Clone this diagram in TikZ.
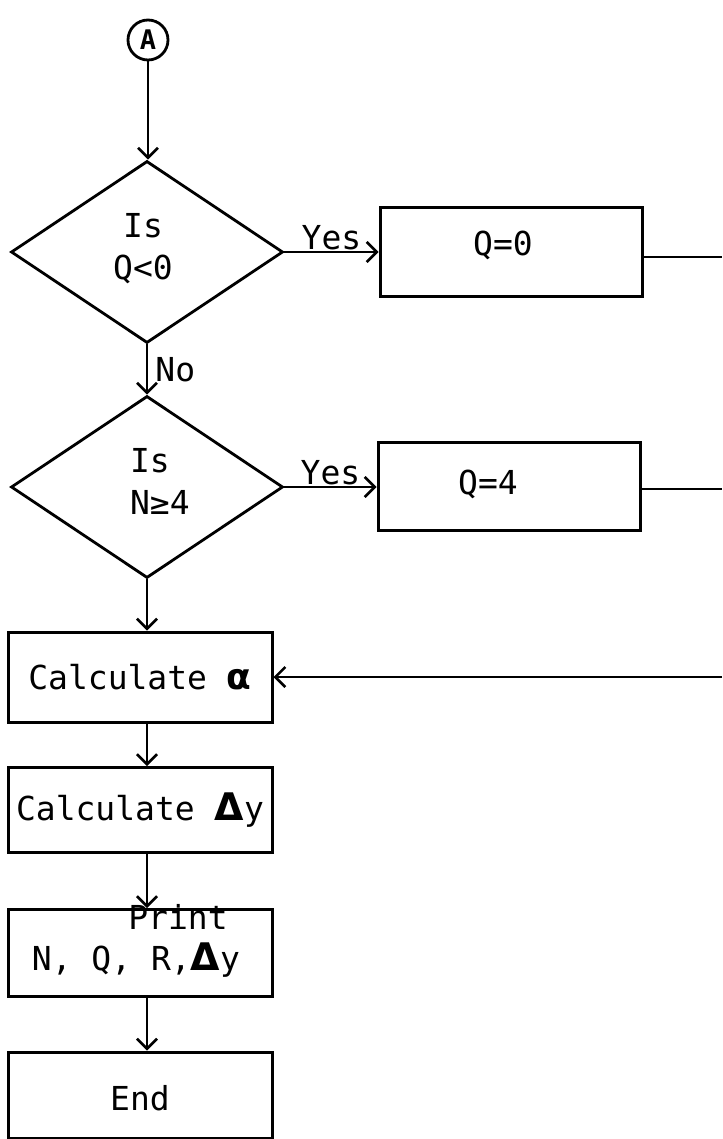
\documentclass[tikz,border=0pt]{standalone}
\usepackage{fontspec}
\setmonofont{DejaVu Sans Mono}
\newfontfamily\symfont{DejaVu Sans}
\usetikzlibrary{arrows.meta,shapes.geometric}
\newcommand{\tri}{{\symfont\bfseries\fontsize{38}{42}\selectfont Δ}}
\newcommand{\alp}{{\symfont\bfseries\fontsize{36}{42}\selectfont α}}
\begin{document}
\begin{tikzpicture}[x=1pt,y=-1pt,
  every node/.style={font=\fontsize{33}{42}\selectfont\ttfamily},
  flow/.style={line width=2.8pt},
  arr/.style={flow,-{Straight Barb[length=10pt,width=20pt,line width=2.6pt]}},
  stepbox/.style={draw,line width=3pt,rectangle,inner sep=0pt},
  decision/.style={draw,line width=2.8pt,diamond,inner sep=0pt,minimum width=272pt,minimum height=182pt},
  conn/.style={draw,circle,line width=2.8pt,minimum size=40pt,inner sep=0pt,font=\fontsize{27}{30}\selectfont\ttfamily\bfseries},
  lbl/.style={inner sep=1pt}]
\useasboundingbox (0,0) rectangle (722,1139);

\node[conn] (A) at (148,40) {A};

\node[decision] (d1) at (147,252) {};
\node[align=center] (t1) at (143,249) {Is\\Q<0};

\node[stepbox,minimum width=262pt,minimum height=88pt] (q0) at (511,252) {};
\node (tq0) at (503,245) {Q=0};

\node[decision] (d2) at (147,487) {};
\node[align=center] (t2) at (150,481) {Is\\\ N≥4};

\node[stepbox,minimum width=262pt,minimum height=88pt] (q4) at (509,486) {};
\node (tq4) at (488,484) {Q=4};

\node[stepbox,minimum width=264pt,minimum height=90pt] (calc) at (140,677) {Calculate \alp};
\node[stepbox,minimum width=264pt,minimum height=85pt] (cdy) at (140,810) {Calculate \tri y};
\node[stepbox,minimum width=264pt,minimum height=87pt] (pr) at (140,953) {};
\node (tp1) at (178,917) {Print};
\node (tp2) at (136,960) {N, Q, R,\tri y};
\node[stepbox,minimum width=264pt,minimum height=86pt] (en) at (140,1095) {};
\node (ten) at (140,1098) {End};

\coordinate (e1) at (722,257);
\coordinate (e2) at (722,489);
\coordinate (e3) at (722,677);

\draw[arr] (A.south) -- (A.south |- d1.north);
\draw[arr] (d1.east) -- (d1.east -| q0.west) node[lbl,midway,above] {Yes};
\draw[flow] (q0.east |- e1) -- (e1);
\draw[arr] (d1.south) -- (d2.north) node[lbl,midway,right,xshift=6pt] {No};
\draw[arr] (d2.east) -- (d2.east -| q4.west) node[lbl,midway,above] {Yes};
\draw[flow] (q4.east |- e2) -- (e2);
\draw[arr] (d2.south) -- (calc.north -| d2.south);
\draw[arr] (e3) -- (calc.east);
\draw[arr] (calc.south -| d2.south) -- (cdy.north -| d2.south);
\draw[arr] (cdy.south -| d2.south) -- (pr.north -| d2.south);
\draw[arr] (pr.south -| d2.south) -- (en.north -| d2.south);
\end{tikzpicture}
\end{document}
